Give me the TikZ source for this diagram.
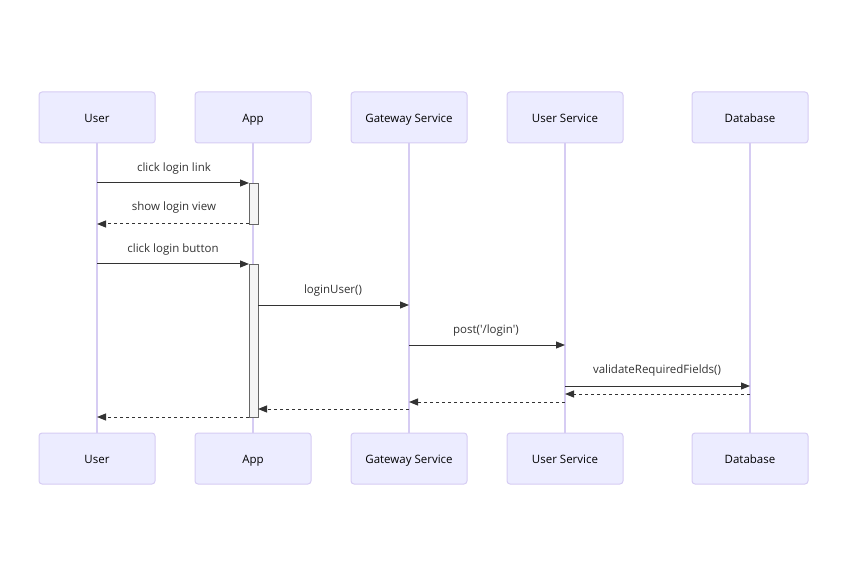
\documentclass[tikz,border=0pt]{standalone}
\usepackage{fontspec}
\setmainfont{Open Sans}
\usetikzlibrary{arrows.meta}
\definecolor{actfill}{HTML}{ECECFF}
\definecolor{actline}{HTML}{D6CCF3}
\definecolor{lifeline}{HTML}{D6CCF3}
\definecolor{msgc}{HTML}{333333}
\definecolor{activfill}{HTML}{F4F4F4}
\definecolor{activline}{HTML}{666666}
\tikzset{
  actor/.style={draw=actline, fill=actfill, line width=1pt, rounded corners=3pt,
    minimum width=116pt, minimum height=51pt, inner sep=0pt,
    text height=12.5pt, text depth=2.5pt, font=\fontsize{11.5}{13}\selectfont},
  life/.style={draw=lifeline, line width=1.6pt},
  activ/.style={draw=activline, fill=activfill, line width=0.8pt},
  msg/.style={draw=msgc, line width=1pt, -{Triangle[length=9pt,width=7pt]}},
  reply/.style={msg, dash pattern=on 3pt off 3pt},
  mlabel/.style={font=\fontsize{11.5}{13}\selectfont, text=msgc, inner sep=0pt,
    text height=12.5pt, text depth=2.5pt},
}
\begin{document}
\begin{tikzpicture}[x=1pt,y=-1pt]
\useasboundingbox (0,0) rectangle (848,577);
% actors top
\node[actor] (userT) at (97,117.5) {User};
\node[actor] (appT) at (253,117.5) {App};
\node[actor] (gwT) at (409,117.5) {Gateway Service};
\node[actor] (usT) at (565,117.5) {User Service};
\node[actor] (dbT) at (750,117.5) {Database};
% actors bottom
\node[actor] (userB) at (97,458.5) {User};
\node[actor] (appB) at (253,458.5) {App};
\node[actor] (gwB) at (409,458.5) {Gateway Service};
\node[actor] (usB) at (565,458.5) {User Service};
\node[actor] (dbB) at (750,458.5) {Database};
% lifelines
\draw[life] (userT.south) -- (userB.north);
\draw[life] (appT.south) -- (appB.north);
\draw[life] (gwT.south) -- (gwB.north);
\draw[life] (usT.south) -- (usB.north);
\draw[life] (dbT.south) -- (dbB.north);
% activations
\draw[activ] (249,183) rectangle (258,224);
\draw[activ] (249,264) rectangle (258,417);
% message endpoints
\coordinate (m1a) at (97,183);  \coordinate (m1b) at (249,183);
\coordinate (m2a) at (249,224); \coordinate (m2b) at (97,224);
\coordinate (m3a) at (97,264);  \coordinate (m3b) at (249,264);
\coordinate (m4a) at (258,305); \coordinate (m4b) at (409,305);
\coordinate (m5a) at (409,345); \coordinate (m5b) at (565,345);
\coordinate (m6a) at (565,386); \coordinate (m6b) at (750,386);
\coordinate (m7a) at (750,394); \coordinate (m7b) at (565,394);
\coordinate (m8a) at (565,402); \coordinate (m8b) at (409,402);
\coordinate (m9a) at (409,409); \coordinate (m9b) at (258,409);
\coordinate (m10a) at (249,417); \coordinate (m10b) at (97,417);
% messages
\draw[msg] (m1a) -- (m1b);
\draw[reply] (m2a) -- (m2b);
\draw[msg] (m3a) -- (m3b);
\draw[msg] (m4a) -- (m4b);
\draw[msg] (m5a) -- (m5b);
\draw[msg] (m6a) -- (m6b);
\draw[reply] (m7a) -- (m7b);
\draw[reply] (m8a) -- (m8b);
\draw[reply] (m9a) -- (m9b);
\draw[reply] (m10a) -- (m10b);
% labels
\node[mlabel] (l1) at (174,167) {click login link};
\node[mlabel] (l2) at (174,206) {show login view};
\node[mlabel] (l3) at (173,247) {click login button};
\node[mlabel] (l4) at (333,288) {loginUser()};
\node[mlabel] (l5) at (486,328) {post(\textquotesingle/login\textquotesingle)};
\node[mlabel] (l6) at (657,368) {validateRequiredFields()};
\end{tikzpicture}
\end{document}
